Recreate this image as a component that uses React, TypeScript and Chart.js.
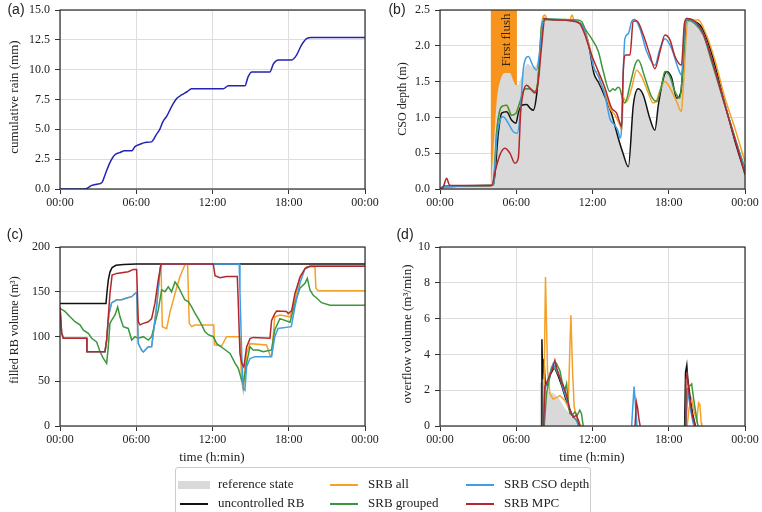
import React, { useEffect, useRef } from 'react';
import { Chart, registerables } from 'chart.js';
Chart.register(...registerables);

type P = [number, number | null];

const SERIF = "'Liberation Serif', 'Times New Roman', Times, serif";
const SANS = "'Liberation Sans', Arial, sans-serif";

const hourTicks = [0, 6, 12, 18, 24];
const hourLabels = ['00:00', '06:00', '12:00', '18:00', '00:00'];

const seriesNames = ['reference state', 'uncontrolled RB', 'SRB all', 'SRB grouped', 'SRB CSO depth', 'SRB MPC'];
const C_REF = '#d9d9d9';
const C_BLACK = '#111111';
const C_ORANGE = '#f5a127';
const C_GREEN = '#3b973b';
const C_BLUE = '#3d9fe6';
const C_RED = '#b3272c';
const C_BAND = '#f7941d';
const C_RAIN = '#2323b4';

// (a) cumulative rain (mm)
const cumRain: P[] = [[0,0],[1.7,0],[2.1,0.05],[2.5,0.3],[2.9,0.4],[3.3,0.55],[3.55,1.2],[3.9,2.15],[4.3,2.85],[4.7,3.05],[5.1,3.2],[5.65,3.2],[5.9,3.55],[6.3,3.75],[6.7,3.9],[7.2,3.95],[7.6,4.6],[7.85,5.0],[8.1,5.65],[8.4,6.1],[8.8,6.95],[9.2,7.6],[9.6,7.9],[10.0,8.15],[10.35,8.4],[12.85,8.4],[13.25,8.65],[14.55,8.65],[14.8,9.4],[15.1,9.8],[16.5,9.8],[16.8,10.5],[17.2,10.8],[18.2,10.8],[18.6,11.2],[19.0,12.05],[19.4,12.6],[19.8,12.7],[24,12.7]];

// (b) CSO depth (m)
const firstFlush = [4.0, 6.05];
const depthRef: P[] = [[0,0],[0.3,0.03],[4.0,0.05],[4.1,0.3],[4.3,0.8],[4.46,1.22],[4.72,1.5],[5.1,1.62],[5.5,1.62],[5.8,1.5],[5.95,1.45],[6.1,1.45],[6.5,1.62],[6.9,1.75],[7.3,1.7],[7.6,1.75],[7.8,1.95],[8.0,2.35],[8.15,2.43],[8.4,2.37],[9.0,2.37],[10.0,2.36],[11.0,2.32],[11.3,2.25],[11.7,2.02],[12.1,1.62],[12.5,1.48],[13.0,1.28],[13.5,1.05],[14.0,0.72],[14.4,0.5],[14.82,0.3],[15.2,1.1],[15.6,1.4],[16.0,1.31],[16.5,1.0],[16.9,0.8],[17.18,1.12],[17.57,1.5],[17.83,1.63],[18.2,1.53],[18.6,1.27],[18.9,1.3],[19.05,1.6],[19.28,2.17],[19.4,2.38],[19.9,2.35],[20.46,2.28],[20.85,2.15],[21.5,1.82],[22.55,1.1],[23.34,0.59],[24,0.22]];
const depthUncontrolled: P[] = [[0,0],[0.3,0.04],[4.0,0.05],[4.2,0.06],[4.6,0.8],[4.85,1.06],[5.24,1.08],[5.64,0.96],[5.98,0.92],[6.16,1.06],[6.43,1.17],[6.82,1.18],[7.08,1.13],[7.34,1.1],[7.6,1.31],[7.87,1.87],[8.13,2.38],[8.4,2.37],[10.0,2.36],[11.0,2.32],[11.3,2.25],[11.7,2.02],[12.1,1.62],[12.5,1.48],[13.0,1.28],[13.5,1.05],[14.03,0.71],[14.4,0.5],[14.82,0.31],[15.21,1.17],[15.6,1.4],[16.0,1.31],[16.52,0.98],[16.91,0.82],[17.18,1.17],[17.57,1.54],[17.83,1.64],[18.23,1.55],[18.62,1.27],[18.96,1.36],[19.07,1.59],[19.4,2.38],[19.93,2.35],[20.46,2.29],[20.85,2.17],[21.5,1.82],[22.55,1.1],[23.34,0.59],[24,0.22]];
const depthAll: P[] = [[0,0],[0.3,0.03],[4.0,0.05],[4.2,0.07],[4.46,0.8],[4.85,1.15],[5.24,1.17],[5.64,1.03],[5.98,1.06],[6.3,1.22],[6.69,1.4],[7.08,1.4],[7.47,1.36],[7.73,1.55],[8.0,2.29],[8.26,2.43],[8.45,2.37],[10.2,2.36],[10.4,2.43],[10.55,2.35],[11.0,2.32],[11.5,2.15],[11.9,1.9],[12.2,1.64],[12.46,1.64],[12.59,1.5],[12.98,1.36],[13.37,1.13],[13.77,1.03],[14.16,0.89],[14.3,0.82],[14.42,1.27],[14.68,1.22],[15.08,1.41],[15.47,1.66],[15.87,1.57],[16.39,1.34],[16.78,1.2],[17.05,1.24],[17.31,1.38],[17.7,1.5],[18.1,1.41],[18.62,1.22],[19.0,1.08],[19.14,1.41],[19.5,2.34],[20.32,2.36],[20.85,2.2],[21.6,1.82],[22.42,1.27],[23.2,0.85],[24,0.38]];
const depthGrouped: P[] = [[0,0],[0.3,0.03],[4.0,0.05],[4.2,0.07],[4.46,0.8],[4.85,1.15],[5.24,1.17],[5.64,1.03],[5.98,1.06],[6.3,1.22],[6.69,1.4],[7.08,1.4],[7.47,1.36],[7.73,1.55],[8.0,2.29],[8.26,2.36],[9.0,2.37],[10.75,2.36],[11.15,2.34],[11.41,2.24],[11.93,2.1],[12.46,1.92],[12.85,1.64],[13.37,1.36],[13.6,1.4],[13.77,1.38],[14.0,1.42],[14.16,1.4],[14.34,1.27],[14.55,1.2],[14.95,1.45],[15.34,1.73],[15.6,1.8],[16.13,1.55],[16.65,1.29],[17.05,1.22],[17.44,1.45],[17.7,1.64],[18.1,1.57],[18.49,1.36],[18.88,1.27],[19.09,1.64],[19.4,2.36],[20.06,2.31],[20.72,2.15],[21.37,1.78],[22.42,1.17],[23.47,0.57],[24,0.29]];
const depthCso: P[] = [[0,0],[0.3,0.03],[4.0,0.05],[4.2,0.07],[4.46,0.71],[4.72,0.96],[4.98,1.01],[5.37,0.92],[5.77,0.8],[6.08,0.78],[6.3,1.03],[6.56,1.68],[6.95,1.85],[7.34,1.71],[7.6,1.66],[7.87,1.96],[8.13,2.36],[8.4,2.37],[10.0,2.36],[11.0,2.32],[11.3,2.24],[11.7,2.0],[12.1,1.7],[12.46,1.57],[12.98,1.31],[13.37,0.98],[13.77,0.89],[14.03,0.8],[14.16,0.71],[14.3,0.9],[14.42,1.64],[14.55,2.1],[14.82,2.17],[15.08,2.34],[15.29,2.37],[15.73,2.24],[16.26,1.92],[16.91,1.73],[17.31,1.96],[17.7,2.1],[18.23,1.96],[18.75,1.68],[19.0,1.59],[19.27,2.29],[19.5,2.37],[20.06,2.33],[20.72,2.16],[21.4,1.8],[22.5,1.13],[23.4,0.6],[24,0.26]];
const depthMpc: P[] = [[0,0],[0.26,0.03],[0.52,0.15],[0.73,0.06],[0.92,0.05],[4.07,0.05],[4.33,0.24],[4.72,0.48],[5.11,0.57],[5.5,0.5],[5.9,0.36],[6.16,0.43],[6.35,1.08],[6.56,1.36],[6.82,1.45],[7.21,1.38],[7.47,1.34],[7.73,1.5],[8.0,2.01],[8.26,2.38],[8.5,2.37],[10.23,2.35],[11.0,2.31],[11.41,2.15],[11.93,1.87],[12.46,1.64],[12.98,1.41],[13.5,1.13],[13.9,1.06],[14.16,0.92],[14.29,0.87],[14.42,1.64],[14.6,1.87],[14.95,1.87],[15.2,2.34],[15.47,2.35],[16.0,2.15],[16.52,1.87],[16.91,1.68],[17.31,1.92],[17.7,2.15],[18.1,2.08],[18.49,1.85],[19.0,1.73],[19.22,2.29],[19.4,2.38],[20.06,2.34],[20.72,2.17],[21.4,1.8],[22.5,1.12],[23.4,0.58],[24,0.2]];

// (c) filled RB volume (m3)
const volUncontrolled: P[] = [[0,137],[3.62,137],[3.7,150],[3.8,163],[3.93,172],[4.1,177],[4.4,179.5],[5.0,180.5],[6,181],[24,181]];
const volMpc: P[] = [[0,133],[0.13,104],[0.26,98],[2.1,98],[2.12,83],[3.54,83],[3.67,96],[3.93,148],[4.1,168.6],[4.46,170.5],[5.37,172.4],[5.77,175],[6.03,175],[6.16,116.5],[6.3,113],[6.56,114.7],[6.95,116.5],[7.21,120],[7.47,137],[7.73,163],[7.95,181],[12.06,181],[12.2,168],[12.59,165.7],[13.1,167],[13.95,167],[14.03,137],[14.16,81],[14.3,70],[14.47,66],[14.68,88],[14.95,97.6],[15.2,99],[16.52,98],[16.65,118],[16.9,125.5],[17.05,128.5],[17.83,128],[17.96,125.5],[18.23,129],[18.49,148],[18.88,166],[19.28,176],[19.67,178.4],[24,178.4]];
const volCso: P[] = [[0,133],[0.13,104],[0.26,98],[2.1,98],[2.12,83],[3.54,83],[3.67,96],[3.85,125],[4.06,137.5],[4.46,141],[4.85,141],[5.24,143],[5.64,144.5],[5.9,148],[6.03,149],[6.16,92],[6.43,84.6],[6.56,82.7],[6.95,88.6],[7.21,88.6],[7.34,103.5],[7.6,133],[7.87,174],[7.95,181],[14.1,181],[14.16,150],[14.3,80],[14.42,42],[14.55,40],[14.68,66],[14.95,75.4],[15.34,77.5],[16.65,77.5],[16.9,99.8],[17.16,109],[18.2,111],[18.49,133.5],[18.88,159.4],[19.28,176],[19.67,178.4],[24,178.4]];
const volAll: P[] = [[0,133],[0.13,104],[0.26,98],[2.1,98],[2.12,83],[3.54,83],[3.67,96],[3.85,125],[4.06,137.5],[4.46,141],[4.85,141],[5.24,143],[5.64,144.5],[5.9,148],[6.03,149],[6.16,92],[6.43,84.6],[6.56,82.7],[6.95,88.6],[7.21,88.6],[7.34,103.5],[7.6,133],[7.87,174],[7.95,181],[8.05,111],[8.39,108.7],[8.65,127],[9.05,148],[9.44,167],[9.83,180],[10.04,181],[10.17,114.7],[10.36,111],[10.62,112.8],[12.1,112.8],[12.15,90.6],[12.72,89.4],[13.1,99.8],[14.16,99.8],[14.29,51],[14.42,40],[14.68,81],[14.95,92],[16.26,90.6],[16.52,79],[16.65,79],[16.9,122],[17.3,124],[18.1,122],[18.49,141],[18.88,167],[19.4,178],[20.06,178],[20.14,153.9],[20.32,151],[24,151]];
const volGrouped: P[] = [[0,131.5],[0.39,128],[0.79,122],[1.18,116.5],[1.57,113],[1.84,107],[2.23,103.5],[2.49,98],[2.88,94],[3.15,83],[3.41,75.6],[3.67,70],[3.8,88.6],[3.93,114.7],[4.06,118],[4.33,124],[4.54,133],[4.72,122],[4.98,111],[5.37,109],[5.64,96],[5.9,99.8],[6.16,98],[6.56,99.8],[6.95,96],[7.21,99.8],[7.47,114.7],[7.73,129.5],[8.0,152],[8.26,150],[8.52,155.6],[8.78,150],[9.05,161],[9.31,155.6],[9.57,148],[9.83,140.8],[10.1,139],[10.36,133],[10.62,126],[10.88,120],[11.15,113],[11.4,105.6],[11.67,102],[12.07,99.8],[12.33,92],[12.86,86.6],[13.38,81],[13.78,70],[14.03,64.5],[14.29,51.4],[14.42,47.6],[14.68,70],[14.95,88.6],[15.2,85],[15.6,85],[15.99,83],[16.65,85],[16.9,107.4],[17.3,120],[18.1,116],[18.49,137],[18.88,154],[19.28,159.4],[19.46,165],[19.67,152],[19.93,146],[20.2,143],[20.58,137.8],[21.24,135],[24,135]];

// (d) overflow volume (m3/min)
const overflowRef: P[] = [[0,0],[7.83,0],[7.86,2.4],[8.1,2.5],[8.3,2.0],[8.6,1.9],[9.0,1.8],[9.4,1.5],[9.8,1.0],[10.2,0.7],[10.5,0.5],[10.8,0.3],[11.0,0],[24,0]];
const overflowUncontrolled: P[] = [[7.95,0],[8.02,4.85],[8.08,2.6],[8.18,3.75],[8.28,2.3],[8.45,2.3],[8.7,2.9],[9.0,3.3],[9.3,2.8],[9.6,2.2],[9.9,1.5],[10.2,0.9],[10.5,0.5],[10.8,0.3],[11.0,0],[11.01,null],[19.25,0],[19.32,3.0],[19.42,3.4],[19.5,2.6],[19.7,1.5],[19.9,0.6],[20.1,0]];
const overflowAll: P[] = [[8.15,0],[8.3,8.32],[8.46,3.1],[8.65,1.8],[8.9,1.5],[9.2,1.6],[9.43,1.7],[9.82,1.43],[10.09,1.06],[10.22,4.4],[10.3,6.18],[10.43,3.1],[10.56,1.06],[10.74,0.5],[11.0,0.13],[11.13,0],[11.14,null],[19.45,0],[19.6,1.0],[19.8,1.5],[20.0,0.8],[20.2,0.3],[20.35,1.3],[20.45,1.2],[20.55,0.2],[20.6,0]];
const overflowGrouped: P[] = [[8.2,0],[8.38,1.8],[8.6,2.6],[8.78,3.3],[9.0,3.2],[9.17,3.48],[9.43,3.1],[9.6,2.5],[9.82,2.0],[9.96,2.36],[10.1,1.2],[10.22,0.7],[10.4,0.6],[10.61,0.78],[10.8,0.6],[11.0,0.88],[11.13,0.7],[11.27,0],[11.28,null],[19.3,0],[19.4,2.0],[19.6,2.2],[19.8,2.35],[20.0,1.3],[20.2,0.4],[20.3,0]];
const overflowCso: P[] = [[8.15,0],[8.25,2.0],[8.5,2.6],[8.9,3.48],[9.1,3.2],[9.43,2.7],[9.82,1.8],[10.1,1.2],[10.35,0.7],[10.74,0.3],[10.9,0],[10.91,null],[15.08,0],[15.27,2.2],[15.4,1.0],[15.5,0],[15.51,null],[19.35,0],[19.5,2.0],[19.7,1.0],[19.9,0.2],[20.0,0]];
const overflowMpc: P[] = [[8.15,0],[8.25,2.2],[8.5,2.6],[8.8,3.1],[9.04,3.67],[9.2,3.2],[9.43,2.7],[9.82,2.0],[10.0,1.6],[10.22,0.9],[10.48,0.5],[10.74,0.6],[10.9,0.3],[11.0,0],[11.01,null],[15.35,0],[15.45,1.35],[15.55,1.0],[15.65,0.4],[15.75,0],[15.76,null],[19.3,0],[19.35,2.6],[19.45,2.9],[19.55,2.1],[19.7,1.3],[19.85,0.6],[20.0,0.2],[20.1,0]];

const toXY = (a: P[]) => a.map(([x, y]) => ({ x, y }));

function line(data: P[], color: string, order: number, smooth: boolean) {
  return {
    data: toXY(data), borderColor: color, backgroundColor: color, borderWidth: 1.5,
    pointRadius: 0, fill: false, order, spanGaps: false, tension: 0,
    cubicInterpolationMode: smooth ? 'monotone' : 'default',
  };
}
function area(data: P[], order: number, smooth: boolean) {
  return {
    data: toXY(data), borderColor: 'rgba(0,0,0,0)', backgroundColor: C_REF, borderWidth: 0,
    pointRadius: 0, fill: 'origin', order, tension: 0,
    cubicInterpolationMode: smooth ? 'monotone' : 'default',
  };
}

interface TextItem { text: string; x: number; y: number; rot?: number; font: string; color?: string; }
interface Spec {
  area: [number, number, number, number];
  yMin: number; yMax: number; yStep: number; yFmt: (v: number) => string;
  datasets: any[];
  texts: TextItem[];
  band?: number[];
  bandText?: string;
}

const ROT = -Math.PI / 2;

const specs: Spec[] = [
  {
    area: [60, 10, 365, 189], yMin: 0, yMax: 15, yStep: 2.5, yFmt: (v) => v.toFixed(1),
    datasets: [line(cumRain, C_RAIN, 0, true)],
    texts: [
      { text: '(a)', x: 16, y: 10, font: `14px ${SANS}` },
      { text: 'cumulative rain (mm)', x: 15, y: 97, rot: ROT, font: `13px ${SERIF}` },
    ],
  },
  {
    area: [440, 10, 745, 189], yMin: 0, yMax: 2.5, yStep: 0.5, yFmt: (v) => v.toFixed(1),
    datasets: [
      line(depthMpc, C_RED, 0, true), line(depthCso, C_BLUE, 1, true), line(depthGrouped, C_GREEN, 2, true),
      line(depthAll, C_ORANGE, 3, true), line(depthUncontrolled, C_BLACK, 4, true), area(depthRef, 5, true),
    ],
    band: firstFlush, bandText: 'First flush',
    texts: [
      { text: '(b)', x: 397, y: 10, font: `14px ${SANS}` },
      { text: 'CSO depth (m)', x: 403, y: 99, rot: ROT, font: `12px ${SERIF}` },
    ],
  },
  {
    area: [60, 247, 365, 426], yMin: 0, yMax: 200, yStep: 50, yFmt: (v) => String(v),
    datasets: [
      line(volMpc, C_RED, 0, false), line(volCso, C_BLUE, 1, false), line(volGrouped, C_GREEN, 2, false),
      line(volAll, C_ORANGE, 3, false), line(volUncontrolled, C_BLACK, 4, false),
    ],
    texts: [
      { text: '(c)', x: 15, y: 235, font: `14px ${SANS}` },
      { text: 'filled RB volume (m³)', x: 15, y: 330, rot: ROT, font: `12px ${SERIF}` },
      { text: 'time (h:min)', x: 212, y: 458, font: `13px ${SERIF}` },
    ],
  },
  {
    area: [440, 247, 745, 426], yMin: 0, yMax: 10, yStep: 2, yFmt: (v) => String(v),
    datasets: [
      line(overflowMpc, C_RED, 0, false), line(overflowCso, C_BLUE, 1, false), line(overflowGrouped, C_GREEN, 2, false),
      line(overflowAll, C_ORANGE, 3, false), line(overflowUncontrolled, C_BLACK, 4, false), area(overflowRef, 5, false),
    ],
    texts: [
      { text: '(d)', x: 405, y: 235, font: `14px ${SANS}` },
      { text: 'overflow volume (m³/min)', x: 408, y: 334, rot: ROT, font: `13px ${SERIF}` },
      { text: 'time (h:min)', x: 592, y: 458, font: `13px ${SERIF}` },
    ],
  },
];

function buildChart(canvas: HTMLCanvasElement, spec: Spec) {
  const [l, t, r, b] = spec.area;
  const tickFont = { family: SERIF, size: 12 };
  const plugin = {
    id: 'decor',
    beforeDatasetsDraw(chart: any) {
      if (!spec.band) return;
      const { ctx, chartArea: a, scales } = chart;
      const x1 = scales.x.getPixelForValue(spec.band[0]);
      const x2 = scales.x.getPixelForValue(spec.band[1]);
      ctx.save();
      ctx.fillStyle = C_BAND;
      ctx.fillRect(x1, a.top, x2 - x1, a.bottom - a.top);
      ctx.restore();
    },
    afterDatasetsDraw(chart: any) {
      const { ctx, chartArea: a, scales } = chart;
      if (spec.band && spec.bandText) {
        const xc = scales.x.getPixelForValue((spec.band[0] + spec.band[1]) / 2) + 3;
        ctx.save();
        ctx.translate(xc, a.top + 30);
        ctx.rotate(ROT);
        ctx.font = `13px ${SERIF}`;
        ctx.fillStyle = '#3a2608';
        ctx.textAlign = 'center';
        ctx.textBaseline = 'middle';
        ctx.fillText(spec.bandText, 0, 0);
        ctx.restore();
      }
      ctx.save();
      ctx.strokeStyle = '#2a2a2a';
      ctx.lineWidth = 1.2;
      ctx.strokeRect(a.left, a.top, a.right - a.left, a.bottom - a.top);
      ctx.restore();
    },
    afterDraw(chart: any) {
      const ctx = chart.ctx;
      for (const tx of spec.texts) {
        ctx.save();
        ctx.translate(tx.x, tx.y);
        if (tx.rot) ctx.rotate(tx.rot);
        ctx.font = tx.font;
        ctx.fillStyle = tx.color || '#222';
        ctx.textAlign = 'center';
        ctx.textBaseline = 'middle';
        ctx.fillText(tx.text, 0, 0);
        ctx.restore();
      }
    },
  };
  return new Chart(canvas, {
    type: 'line',
    data: { datasets: spec.datasets },
    options: {
      responsive: false,
      animation: false,
      events: [],
      layout: { padding: { left: l - 60, top: t, right: 762 - r, bottom: 512 - b - 31 } },
      plugins: { legend: { display: false }, tooltip: { enabled: false } },
      scales: {
        x: {
          type: 'linear', min: 0, max: 24,
          ticks: {
            stepSize: 6, autoSkip: false, maxRotation: 0, padding: 2, color: '#222', font: tickFont,
            callback: (v: any) => hourLabels[hourTicks.indexOf(Number(v))] ?? '',
          },
          grid: { color: '#dddddd', lineWidth: 1, drawTicks: true, tickLength: 5, tickColor: '#333' },
          border: { display: false },
          afterFit: (s: any) => { s.height = 31; s.paddingLeft = 0; s.paddingRight = 0; },
        },
        y: {
          type: 'linear', min: spec.yMin, max: spec.yMax,
          ticks: {
            stepSize: spec.yStep, padding: 5, color: '#222', font: tickFont,
            callback: (v: any) => spec.yFmt(Number(v)),
          },
          grid: { color: '#dddddd', lineWidth: 1, drawTicks: true, tickLength: 5, tickColor: '#333' },
          border: { display: false },
          afterFit: (s: any) => { s.width = 60; s.paddingTop = 0; s.paddingBottom = 0; },
        },
      },
    } as any,
    plugins: [plugin],
  } as any);
}

function Panel({ spec }: { spec: Spec }) {
  const ref = useRef<HTMLCanvasElement>(null);
  useEffect(() => {
    const c = buildChart(ref.current!, spec);
    return () => c.destroy();
  }, [spec]);
  return (
    <canvas ref={ref} width={762} height={512}
      style={{ position: 'absolute', left: 0, top: 0, width: 762, height: 512 }} />
  );
}

const legendItems = [
  { name: seriesNames[0], color: C_REF, patch: true, x: 178, y: 485 },
  { name: seriesNames[1], color: C_BLACK, patch: false, x: 178, y: 504 },
  { name: seriesNames[2], color: C_ORANGE, patch: false, x: 328, y: 485 },
  { name: seriesNames[3], color: C_GREEN, patch: false, x: 328, y: 504 },
  { name: seriesNames[4], color: C_BLUE, patch: false, x: 464, y: 485 },
  { name: seriesNames[5], color: C_RED, patch: false, x: 464, y: 504 },
];

export default function App() {
  return (
    <div style={{ position: 'fixed', left: 0, top: 0, width: 762, height: 512, background: '#fff', overflow: 'hidden' }}>
      {specs.map((s, i) => <Panel key={i} spec={s} />)}
      <div style={{ position: 'absolute', left: 175, top: 467, width: 416, height: 60, border: '1px solid #cccccc', borderRadius: 3, boxSizing: 'border-box', background: '#fff' }} />
      {legendItems.map((it, i) => (
        <React.Fragment key={i}>
          {it.patch ? (
            <div style={{ position: 'absolute', left: it.x, top: it.y - 4, width: 32, height: 8, background: it.color }} />
          ) : (
            <div style={{ position: 'absolute', left: it.x + 2, top: it.y - 1, width: 28, height: 1.6, background: it.color }} />
          )}
          <div style={{ position: 'absolute', left: it.x + 40, top: it.y - 9, height: 18, lineHeight: '18px', font: `13px ${SERIF}`, color: '#222', whiteSpace: 'nowrap' }}>
            {it.name}
          </div>
        </React.Fragment>
      ))}
    </div>
  );
}
